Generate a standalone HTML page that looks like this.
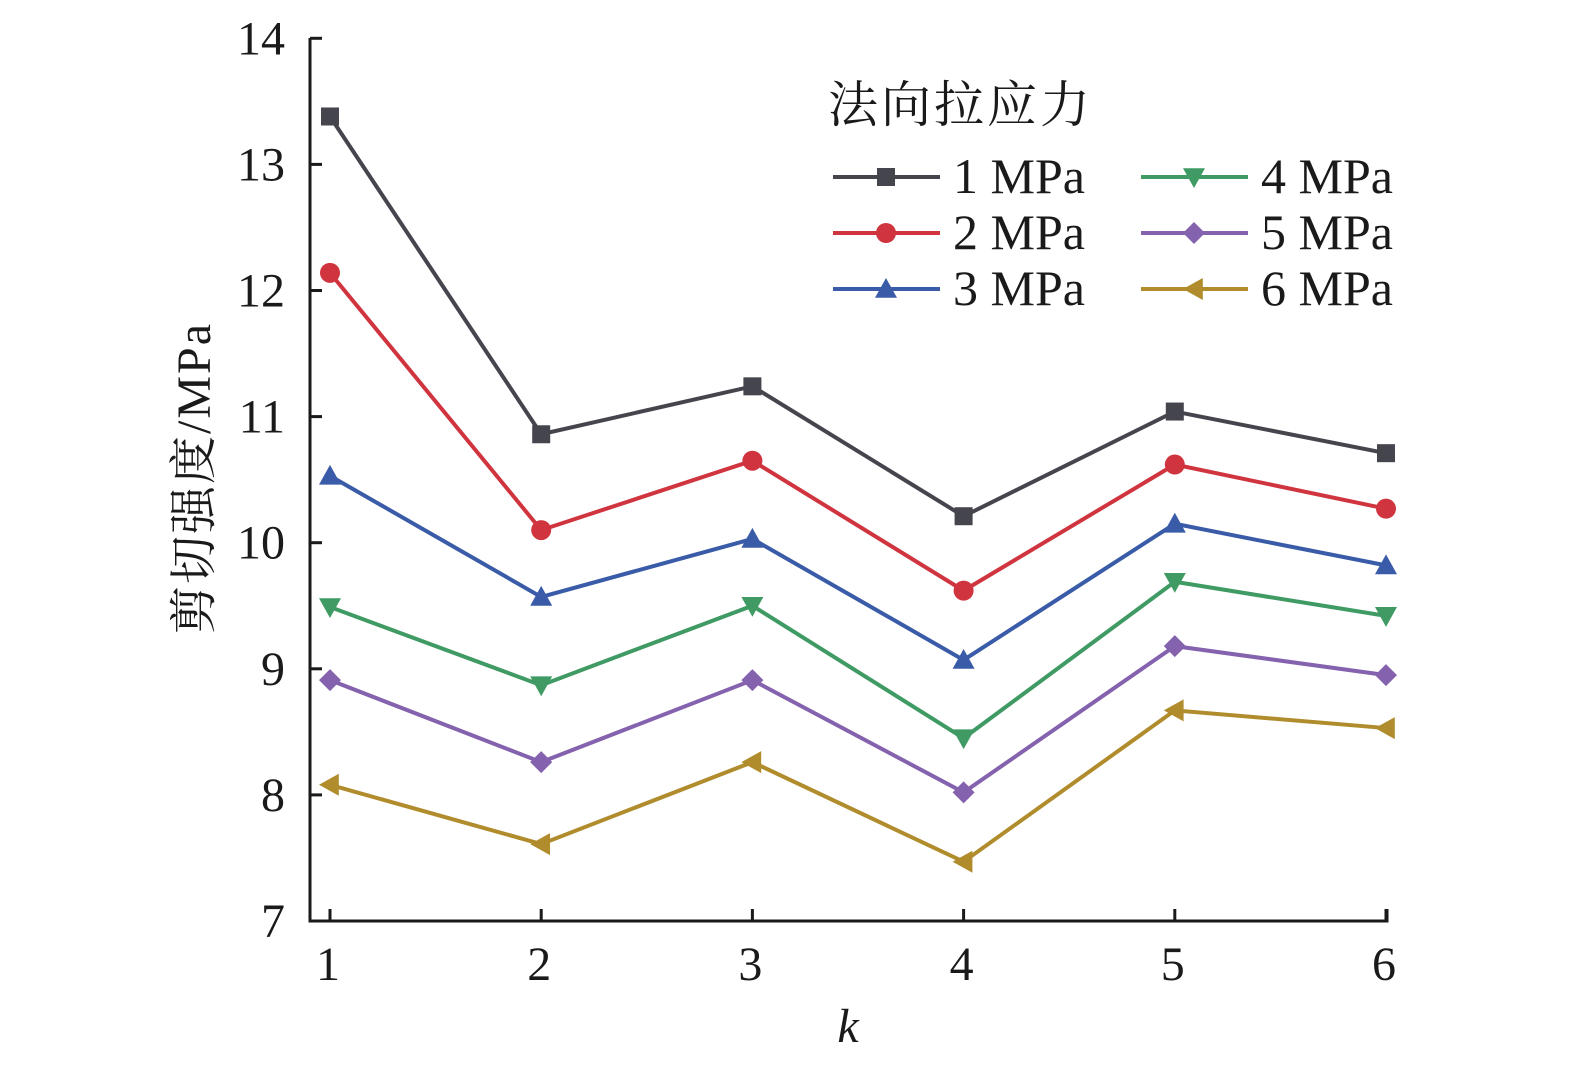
<!DOCTYPE html>
<html><head><meta charset="utf-8"><style>body{margin:0;background:#fff}svg{display:block}</style></head>
<body>
<svg id="chart" width="1575" height="1073" xmlns="http://www.w3.org/2000/svg" font-family="'Liberation Serif','Noto Serif CJK SC',serif"></svg>
<script>
const categories=[1,2,3,4,5,6];
const yTicks=[7,8,9,10,11,12,13,14];
const seriesNames=['1 MPa','2 MPa','3 MPa','4 MPa','5 MPa','6 MPa'];
const s1=[13.38,10.86,11.24,10.21,11.04,10.71];
const s2=[12.14,10.10,10.65,9.62,10.62,10.27];
const s3=[10.53,9.57,10.03,9.07,10.15,9.82];
const s4=[9.49,8.87,9.50,8.45,9.69,9.42];
const s5=[8.91,8.26,8.91,8.02,9.18,8.95];
const s6=[8.08,7.61,8.26,7.47,8.67,8.53];
const series=[s1,s2,s3,s4,s5,s6];
const colors=['#45454d','#d0353f','#3a5ba8','#3f9b63','#8462ae','#b08c2c'];
const markers=['square','circle','up','down','diamond','left'];
const NS='http://www.w3.org/2000/svg';
const svg=document.getElementById('chart');
const X=v=>330+(v-1)*211.2;
const Y=v=>921-(v-7)*126.1;
function mk(t,a,p){const e=document.createElementNS(NS,t);for(const k in a)e.setAttribute(k,a[k]);(p||svg).appendChild(e);return e;}
function marker(type,x,y,c,g){
  let e;
  if(type==='square')e=mk('rect',{x:x-9,y:y-9,width:18,height:18,fill:c},g);
  else if(type==='circle')e=mk('circle',{cx:x,cy:y,r:10,fill:c},g);
  else{let p;const r=11;
    if(type==='up')p=[[x,y-r],[x+r,y+r*0.8],[x-r,y+r*0.8]];
    if(type==='down')p=[[x,y+r],[x+r,y-r*0.8],[x-r,y-r*0.8]];
    if(type==='diamond')p=[[x,y-r],[x+r,y],[x,y+r],[x-r,y]];
    if(type==='left')p=[[x-r,y],[x+r*0.8,y-r],[x+r*0.8,y+r]];
    e=mk('polygon',{points:p.map(q=>q.join(',')).join(' '),fill:c},g);}
  return e;
}
let ax=mk('path',{d:`M310,38 L310,921 L1387,921 L1387,909`,fill:'none',stroke:'#1a1a1a','stroke-width':3});


yTicks.forEach(v=>{
  let t=mk('line',{x1:310,x2:322,y1:Y(v),y2:Y(v),stroke:'#1a1a1a','stroke-width':3});
  
  
  let l=mk('text',{x:285,y:Y(v)+16,'text-anchor':'end','font-size':48,fill:'#1a1a1a'});l.textContent=v;
  
  
});
categories.forEach(v=>{
  let t=mk('line',{x1:X(v),x2:X(v),y1:921,y2:909,stroke:'#1a1a1a','stroke-width':3});
  
  
  let l=mk('text',{x:X(v)-2,y:980,'text-anchor':'middle','font-size':48,fill:'#1a1a1a'});l.textContent=v;
  
  
});
let xt=mk('text',{x:848,y:1042,'text-anchor':'middle','font-size':48,'font-style':'italic',fill:'#1a1a1a'});xt.textContent='k';


let yt=mk('text',{x:0,y:0,transform:'translate(210,478) rotate(-90)','text-anchor':'middle','font-size':48,'letter-spacing':2,fill:'#1a1a1a'});yt.textContent='剪切强度/MPa';


series.forEach((s,i)=>{
  const g=mk('g',{});
  
  
  mk('polyline',{points:s.map((v,j)=>X(categories[j])+','+Y(v)).join(' '),fill:'none',stroke:colors[i],'stroke-width':4},g);
  s.forEach((v,j)=>{const m=marker(markers[i],X(categories[j]),Y(v),colors[i],g);
    
    });
});
const lg=mk('g',{});


let lt=mk('text',{x:828,y:122,'font-size':50,'letter-spacing':3,fill:'#1a1a1a'},lg);lt.textContent='法向拉应力';
seriesNames.forEach((n,i)=>{
  const col=Math.floor(i/3),row=i%3;
  const x0=833+col*308,y0=177+row*56;
  const e=mk('g',{},lg);
  
  
  mk('line',{x1:x0,x2:x0+107,y1:y0,y2:y0,stroke:colors[i],'stroke-width':4},e);
  marker(markers[i],x0+53,y0,colors[i],e);
  const t=mk('text',{x:x0+120,y:y0+16,'font-size':50,fill:'#1a1a1a'},e);t.textContent=n;
});
</script>
</body></html>
